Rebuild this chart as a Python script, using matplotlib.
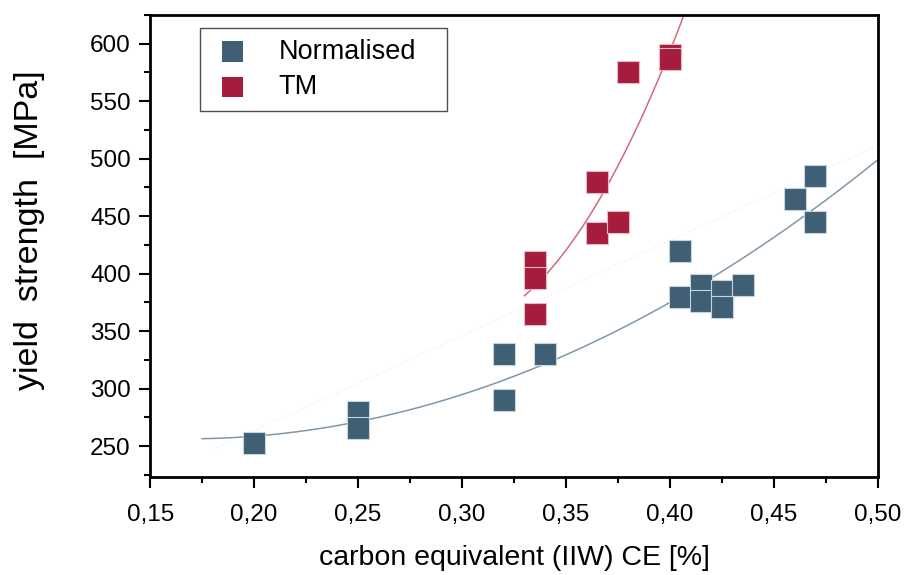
import numpy as np
import matplotlib.pyplot as plt
from matplotlib.ticker import FuncFormatter, MultipleLocator

plt.rcParams['font.family'] = ['Liberation Sans', 'DejaVu Sans']

# Normalised steels
ce_norm = [0.20, 0.25, 0.25, 0.32, 0.32, 0.34, 0.405, 0.405, 0.415, 0.415,
           0.425, 0.425, 0.435, 0.46, 0.47, 0.47]
ys_norm = [253, 280, 266, 330, 290, 330, 420, 380, 390, 376,
           385, 371, 390, 465, 485, 445]

# thermomechanically rolled steels
ce_tm = [0.335, 0.335, 0.335, 0.365, 0.365, 0.375, 0.38, 0.40, 0.40]
ys_tm = [410, 396, 365, 480, 435, 445, 575, 590, 587]

c_norm = '#3f5f75'
c_tm = '#a51c3c'

fig, ax = plt.subplots(figsize=(9.05, 5.75), dpi=100)
fig.subplots_adjust(left=0.166, right=0.970, top=0.974, bottom=0.170)

# trend lines (quadratic fits)
p_norm = np.polyfit(ce_norm, ys_norm, 2)
xn = np.linspace(0.175, 0.50, 200)
ax.plot(xn, np.polyval(p_norm, xn), color='#7f98a8', lw=1.1, zorder=2)

p_tm = np.polyfit(ce_tm, ys_tm, 2)
xt = np.linspace(0.33, 0.42, 200)
ax.plot(xt, np.polyval(p_tm, xt), color='#d06a80', lw=1.1, zorder=2)

# faint overall trend
p_all = np.polyfit(ce_norm + ce_tm, ys_norm + ys_tm, 1)
xa = np.linspace(0.18, 0.50, 100)
ax.plot(xa, np.polyval(p_all, xa), color='#eeeeee', lw=1, ls=':', zorder=1)

ax.scatter(ce_norm, ys_norm, marker='s', s=240, color=c_norm,
           edgecolors='#c8d4dc', linewidths=0.8, zorder=3, label='Normalised')
ax.scatter(ce_tm, ys_tm, marker='s', s=240, color=c_tm,
           edgecolors='#e8b8c4', linewidths=0.8, zorder=3, label='TM')

ax.set_xlim(0.15, 0.50)
ax.set_ylim(223, 625)
ax.xaxis.set_major_locator(MultipleLocator(0.05))
ax.xaxis.set_minor_locator(MultipleLocator(0.025))
ax.yaxis.set_major_locator(MultipleLocator(50))
ax.yaxis.set_minor_locator(MultipleLocator(25))
ax.xaxis.set_major_formatter(FuncFormatter(lambda v, p: f'{v:.2f}'.replace('.', ',')))

ax.tick_params(which='major', direction='out', length=8, width=1.5, labelsize=17.5)
ax.tick_params(which='minor', direction='out', length=4, width=1.5)
ax.tick_params(axis='x', which='major', pad=11)
ax.tick_params(axis='y', which='major', pad=6)
for s in ax.spines.values():
    s.set_linewidth(2)

ax.set_xlabel('carbon equivalent (IIW) CE [%]', fontsize=20.5, labelpad=14)
ax.set_ylabel('yield  strength  [MPa]', fontsize=24.5)
ax.yaxis.set_label_coords(-0.144, 0.535)

leg = ax.legend(loc='upper left', bbox_to_anchor=(0.0687, 0.5, 0.339, 0.472),
                mode='expand', fontsize=19.5,
                frameon=True, fancybox=False, edgecolor='#222222',
                borderpad=0.4, handletextpad=0.9, labelspacing=0.35,
                markerscale=0.95, borderaxespad=0, handlelength=1.6)
leg.get_frame().set_linewidth(1)
for h in leg.legend_handles:
    h.set_edgecolor('none')

fig.savefig('out.png', dpi=100)
